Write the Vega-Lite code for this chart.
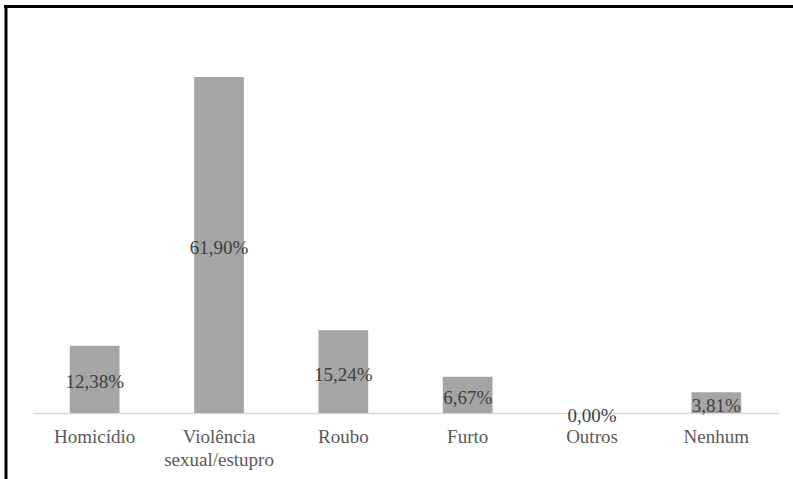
{
  "$schema": "https://vega.github.io/schema/vega-lite/v6.json",
  "width": 787.5,
  "height": 472.5,
  "autosize": {"type": "none"},
  "padding": {"left": 5.5, "top": 6.5, "right": 0, "bottom": 0},
  "background": "white",
  "config": {
    "locale": {"number": {"decimal": ",", "thousands": ".", "grouping": [3], "currency": ["R$", ""]}},
    "view": {"stroke": null},
    "font": "Liberation Serif"
  },
  "data": {
    "values": [
      {"crime": "Homicídio", "pct": 0.1238},
      {"crime": "Violência sexual/estupro", "pct": 0.619},
      {"crime": "Roubo", "pct": 0.1524},
      {"crime": "Furto", "pct": 0.0667},
      {"crime": "Outros", "pct": 0.0},
      {"crime": "Nenhum", "pct": 0.0381}
    ]
  },
  "layer": [
    {
      "layer": [
        {
          "mark": {"type": "bar", "color": "#a5a5a5"},
          "encoding": {
            "x": {
              "field": "crime",
              "type": "nominal",
              "sort": null,
              "scale": {"range": [27, 773], "paddingInner": 0.6, "paddingOuter": 0.3},
              "axis": {
                "title": null,
                "orient": "bottom",
                "offset": -66,
                "domainColor": "#d9d9d9",
                "domainWidth": 1.5,
                "ticks": false,
                "labelAngle": 0,
                "labelFont": "Liberation Serif",
                "labelFontSize": 19,
                "labelColor": "#595959",
                "labelPadding": 14,
                "labelLineHeight": 23,
                "labelExpr": "datum.label == 'Violência sexual/estupro' ? ['Violência', 'sexual/estupro'] : datum.label"
              }
            },
            "y": {
              "field": "pct",
              "type": "quantitative",
              "scale": {"domain": [-0.1216, 0.7489], "nice": false, "zero": false},
              "axis": {
                "title": null,
                "labels": false,
                "ticks": false,
                "grid": false,
                "domainColor": "black",
                "domainWidth": 3
              }
            },
            "y2": {"datum": 0}
          }
        },
        {
          "mark": {"type": "rule", "color": "black", "strokeWidth": 3, "strokeCap": "square"},
          "encoding": {
            "y": {"datum": 0.7489, "type": "quantitative"}
          }
        }
      ]
    },
    {
      "mark": {"type": "text", "color": "#404040", "font": "Liberation Serif", "fontSize": 19, "baseline": "middle", "align": "center", "dy": 3},
      "encoding": {
        "x": {"field": "crime", "type": "nominal", "sort": null},
        "y": {
          "field": "pct",
          "type": "quantitative",
          "scale": {"domain": [-0.2432, 1.4978], "nice": false, "zero": false},
          "axis": null
        },
        "text": {"field": "pct", "type": "quantitative", "format": ".2%"}
      }
    }
  ],
  "resolve": {"scale": {"y": "independent"}}
}
